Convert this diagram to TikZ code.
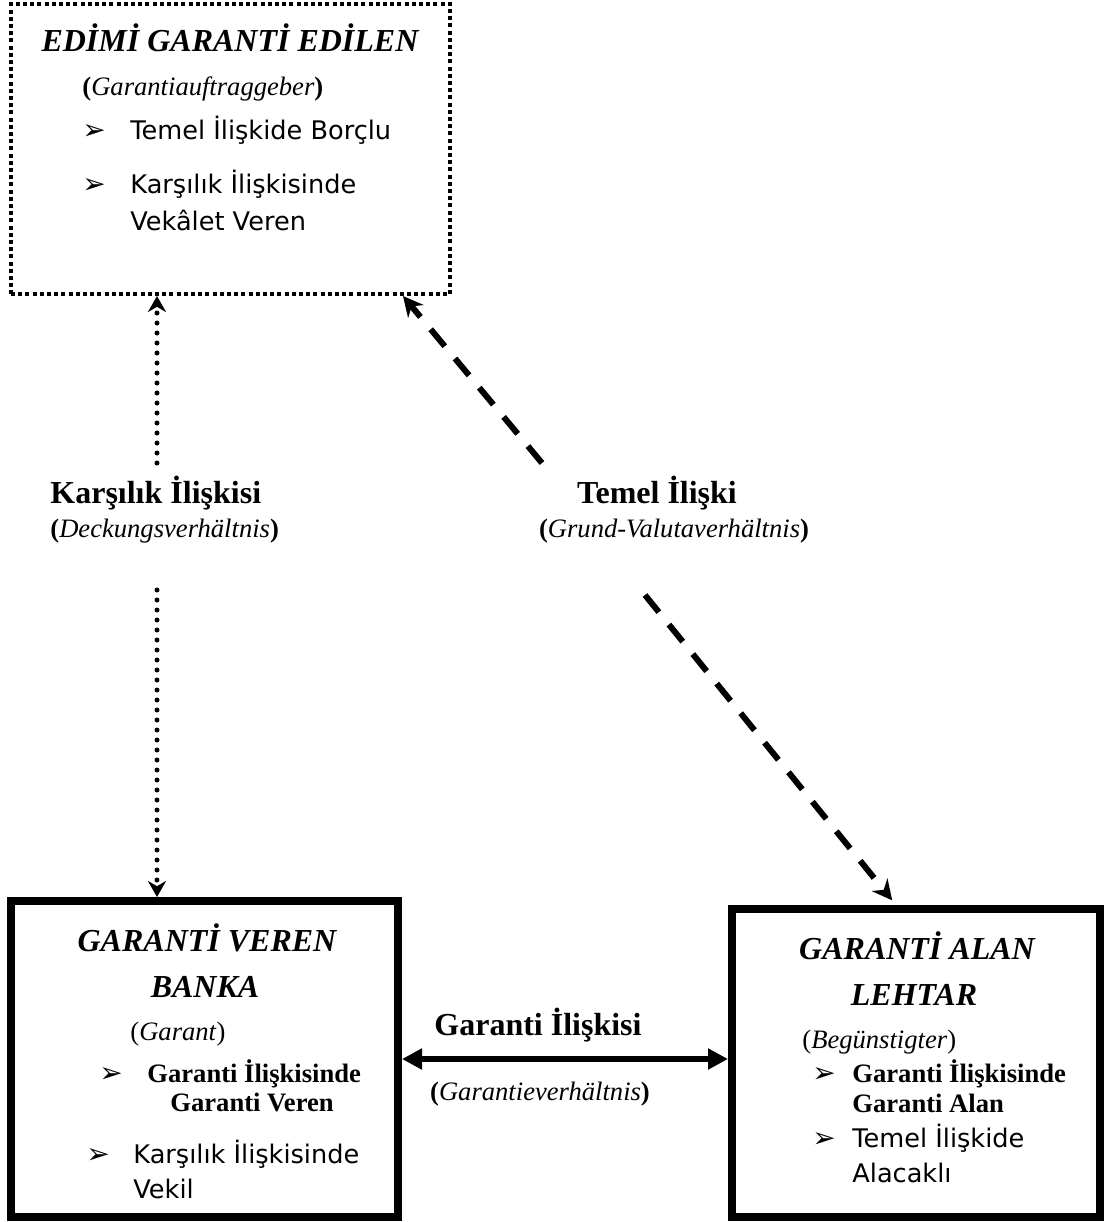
\documentclass[tikz,border=0pt]{standalone}
\usepackage{fontspec}
\setmainfont{Liberation Serif}
\newfontfamily\comicfont{DejaVu Sans}
\usetikzlibrary{arrows.meta}

\begin{document}
\begin{tikzpicture}[x=0.5pt,y=-0.5pt,
    dotbox/.style={draw, line width=2pt, dash pattern=on 2pt off 1.6pt},
    thickbox/.style={draw, line width=4pt},
    dotarrow/.style={line width=2.5pt, line cap=round, dash pattern=on 0pt off 5pt, -{Stealth[length=8pt,width=9pt]}},
    dasharrow/.style={line width=3pt, dash pattern=on 11pt off 8pt, -{Stealth[length=10pt,width=10pt]}},
    boxtitle/.style={inner sep=0pt, anchor=base, font=\fontsize{16}{19}\selectfont\bfseries\itshape},
    rellabel/.style={inner sep=0pt, font=\fontsize{16}{19}\selectfont\bfseries},
    subtext/.style={inner sep=0pt, font=\fontsize{13.3}{16}\selectfont},
    entry/.style={inner sep=0pt, anchor=base west, font=\fontsize{12.8}{15}\selectfont\comicfont},
    boldentry/.style={inner sep=0pt, anchor=base west, font=\fontsize{13.3}{16}\selectfont\bfseries},
    arrowbullet/.style={inner sep=0pt, anchor=base west, font=\fontsize{14}{16}\selectfont\comicfont}]
            \useasboundingbox (0,0) rectangle (1118,1222);

            % Top box
            \node[dotbox, minimum width=219.5pt, minimum height=145pt] (edimi) at (230.5,149) {};
            \node[boxtitle] (edimiT) at (230,51) {EDİMİ GARANTİ EDİLEN};
            \node[subtext, anchor=base west] (edimiS) at (82,95) {{\bfseries(}\textit{Garantiauftraggeber}{\bfseries)}};
            \node[arrowbullet] (eb1) at (82,139) {➢};
            \node[entry] (e1) at (130,139) {Temel İlişkide Borçlu};
            \node[arrowbullet] (eb2) at (82,193) {➢};
            \node[entry] (e2) at (130,193) {Karşılık İlişkisinde};
            \node[entry] (e3) at (130,230) {Vekâlet Veren};

            % Bottom left box
            \node[thickbox, minimum width=193.5pt, minimum height=158pt] (banka) at (204.5,1059) {};
            \node[boxtitle] (bankaT1) at (207,951) {GARANTİ VEREN};
            \node[boxtitle] (bankaT2) at (205,997) {BANKA};
            \node[subtext, anchor=base west] (bankaS) at (130,1040) {(\textit{Garant})};
            \node[arrowbullet] (bb1) at (99,1082) {➢};
            \node[boldentry] (b1) at (147,1082) {Garanti İlişkisinde};
            \node[boldentry] (b2) at (170,1111) {Garanti Veren};
            \node[arrowbullet] (bb2) at (86,1163) {➢};
            \node[entry] (b3) at (133,1163) {Karşılık İlişkisinde};
            \node[entry] (b4) at (133,1198) {Vekil};

            % Bottom right box
            \node[thickbox, minimum width=184pt, minimum height=154pt] (lehtar) at (916,1063) {};
            \node[boxtitle] (lehtarT1) at (917,959) {GARANTİ ALAN};
            \node[boxtitle] (lehtarT2) at (914,1005) {LEHTAR};
            \node[subtext, anchor=base west] (lehtarS) at (802,1048) {(\textit{Begünstigter})};
            \node[arrowbullet] (lb1) at (812,1082) {➢};
            \node[boldentry] (l1) at (852,1082) {Garanti İlişkisinde};
            \node[boldentry] (l2) at (852,1112) {Garanti Alan};
            \node[arrowbullet] (lb2) at (812,1147) {➢};
            \node[entry] (l3) at (852,1147) {Temel İlişkide};
            \node[entry] (l4) at (852,1182) {Alacaklı};

            % Relation labels
            \node[rellabel, anchor=base west] (karsT) at (50,503) {Karşılık İlişkisi};
            \node[subtext, anchor=base west] (karsS) at (50,537) {{\bfseries(}\textit{Deckungsverhältnis}{\bfseries)}};
            \node[rellabel, anchor=base] (temelT) at (657,503) {Temel İlişki};
            \node[subtext, anchor=base] (temelS) at (674,537) {{\bfseries(}\textit{Grund-Valutaverhältnis}{\bfseries)}};
            \node[rellabel, anchor=base] (garT) at (538,1035) {Garanti İlişkisi};
            \node[subtext, anchor=base] (garS) at (540,1100) {{\bfseries(}\textit{Garantieverhältnis}{\bfseries)}};

            % Dotted arrows
            \coordinate (k1) at (157,463);
            \coordinate (k2) at (157,590);
            \draw[dotarrow] (k1) -- (k1 |- edimi.south);
            \draw[dotarrow] (k2) -- (k2 |- banka.north);

            % Dashed arrows
            \coordinate (t1) at (542,463);
            \coordinate (t2) at (645,595);
            \draw[dasharrow] (t1) -- (403,0 |- edimi.south);
            \draw[dasharrow, shorten >=3pt] (t2) -- (896,0 |- lehtar.north);

            % Double arrow
            \draw[line width=3pt, {Triangle[length=10pt,width=10pt]}-{Triangle[length=10pt,width=10pt]}] (banka.east) -- (banka.east -| lehtar.west);
          \end{tikzpicture}
\end{document}
